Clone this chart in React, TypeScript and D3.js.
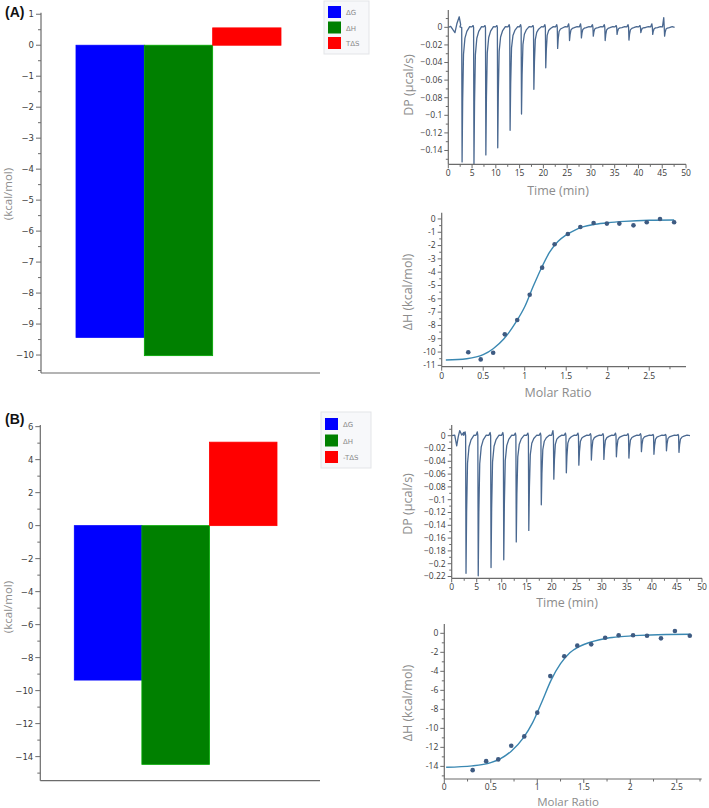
import React from "react";
import * as d3 from "d3";

// ---------- DATA ----------
const categories = ["ΔG", "ΔH", "TΔS"];
const legendLabelsA = ["ΔG", "ΔH", "TΔS"];
const legendLabelsB = ["ΔG", "ΔH", "-TΔS"];
const barValuesA = [-9.43, -10.02, 0.56];
const barValuesB = [-9.36, -14.47, 5.06];
const barColors = ["#0000ff", "#008000", "#ff0000"];

const barTicksA = [1, 0, -1, -2, -3, -4, -5, -6, -7, -8, -9, -10];
const barMinorA = [0.5, -0.5, -1.5, -2.5, -3.5, -4.5, -5.5, -6.5, -7.5, -8.5, -9.5, -10.5];
const barTicksB = [6, 4, 2, 0, -2, -4, -6, -8, -10, -12, -14];
const barMinorB = [5, 3, 1, -1, -3, -5, -7, -9, -11, -13, -15];

// raw thermograms (time in min, DP in µcal/s)
const injTimesA = [2.9, 5.4, 7.9, 10.4, 13.0, 15.4, 18.0, 20.5, 23.0, 25.5, 28.0, 30.5, 33.0, 35.5, 38.0, 40.5, 43.0, 45.5];
const peakDepthsA = [-0.153, -0.155, -0.145, -0.137, -0.117, -0.0985, -0.0705, -0.046, -0.024, -0.015, -0.012, -0.010, -0.015, -0.008, -0.0145, -0.006, -0.008, -0.010];
const preSpikeA = [0.0, 0.002, 0.002, 0.002, 0.003, 0.003, 0.002, 0.003, 0.003, 0.004, 0.004, 0.003, 0.003, 0.002, 0.003, 0.002, 0.004, 0.011];
const traceStartA: [number, number][] = [[0, 0], [0.5, 0.001], [1.0, -0.003], [1.4, -0.006], [1.8, 0.004], [2.3, 0.012], [2.6, 0.003]];

const injTimesB = [2.86, 5.3, 7.86, 10.4, 12.9, 15.4, 17.9, 20.4, 22.9, 25.4, 27.9, 30.4, 32.9, 35.4, 37.9, 40.4, 42.9, 45.4];
const peakDepthsB = [-0.215, -0.219, -0.206, -0.194, -0.166, -0.148, -0.108, -0.068, -0.058, -0.046, -0.038, -0.037, -0.033, -0.035, -0.025, -0.029, -0.0235, -0.026];
const preSpikeB = [0.006, 0.006, 0.005, 0.005, 0.004, 0.004, 0.004, 0.008, 0.004, 0.004, 0.003, 0.003, 0.004, 0.003, 0.003, 0.002, 0.002, 0.002];
const traceStartB: [number, number][] = [[0, 0], [0.6, 0.001], [1.0, -0.016], [1.3, -0.002], [1.6, 0.008], [2.0, 0.001], [2.4, 0.005]];
const traceEnd = 47.6;

const rawXTicks = [0, 5, 10, 15, 20, 25, 30, 35, 40, 45, 50];
const rawXMinor = [2.5, 7.5, 12.5, 17.5, 22.5, 27.5, 32.5, 37.5, 42.5, 47.5];
const rawYTicksA = [0, -0.02, -0.04, -0.06, -0.08, -0.1, -0.12, -0.14];
const rawYMinorA = [0.01, -0.01, -0.03, -0.05, -0.07, -0.09, -0.11, -0.13, -0.15];
const rawYTicksB = [0, -0.02, -0.04, -0.06, -0.08, -0.1, -0.12, -0.14, -0.16, -0.18, -0.2, -0.22];
const rawYMinorB = [0.01, -0.01, -0.03, -0.05, -0.07, -0.09, -0.11, -0.13, -0.15, -0.17, -0.19, -0.21];

// integrated heats
const molarA = [0.32, 0.47, 0.62, 0.76, 0.91, 1.06, 1.21, 1.36, 1.52, 1.67, 1.83, 1.99, 2.14, 2.31, 2.47, 2.63, 2.8];
const dhA = [-10.02, -10.55, -10.05, -8.67, -7.59, -5.69, -3.66, -1.9, -1.13, -0.6, -0.3, -0.35, -0.35, -0.48, -0.25, 0.0, -0.25];
const fitXA = [0.05, 0.3, 0.5, 0.62, 0.75, 0.9, 1.0, 1.1, 1.2, 1.3, 1.4, 1.5, 1.6, 1.7, 1.85, 2.0, 2.2, 2.5, 2.8];
const fitYA = [-10.6, -10.5, -10.2, -9.75, -9.0, -7.7, -6.6, -5.1, -3.7, -2.5, -1.7, -1.2, -0.85, -0.6, -0.4, -0.28, -0.18, -0.1, -0.08];

const molarB = [0.305, 0.45, 0.58, 0.72, 0.86, 1.0, 1.14, 1.29, 1.43, 1.58, 1.73, 1.875, 2.03, 2.18, 2.33, 2.48, 2.64];
const dhB = [-14.4, -13.45, -13.27, -11.83, -10.85, -8.35, -4.5, -2.42, -1.3, -1.16, -0.46, -0.21, -0.21, -0.25, -0.53, 0.25, -0.25];
const fitXB = [0.02, 0.3, 0.5, 0.6, 0.72, 0.85, 0.95, 1.05, 1.15, 1.25, 1.35, 1.45, 1.6, 1.75, 1.9, 2.1, 2.4, 2.65];
const fitYB = [-14.1, -13.95, -13.6, -13.2, -12.4, -11.0, -9.4, -7.2, -4.9, -3.2, -2.05, -1.4, -0.85, -0.52, -0.35, -0.22, -0.13, -0.1];

const fitXTicks = [0, 0.5, 1, 1.5, 2, 2.5];
const fitXMinor = [0.25, 0.75, 1.25, 1.75, 2.25, 2.75];
const fitYTicksA = [0, -1, -2, -3, -4, -5, -6, -7, -8, -9, -10, -11];
const fitYMinorA = [-0.5, -1.5, -2.5, -3.5, -4.5, -5.5, -6.5, -7.5, -8.5, -9.5, -10.5];
const fitYTicksB = [0, -2, -4, -6, -8, -10, -12, -14];
const fitYMinorB = [-1, -3, -5, -7, -9, -11, -13, -15];

// ---------- STYLE ----------
const AXIS = "#6b6b6b";
const TICKTXT = "#3a3a3a";
const TITLE = "#8c8c8c";
const TRACE = "#4a6890";
const FIT = "#3a88b2";
const DOT = "#3e5b82";
const TICKFONT = "'Open Sans', sans-serif";
const BARFONT = "'DejaVu Sans', sans-serif";

type Scale = d3.ScaleLinear<number, number>;

function YAxis(props: { scale: Scale; x: number; ticks: number[]; minor: number[]; fmt: (v: number) => string; font: string; size: number; len?: number; mlen?: number }) {
  const { scale, x, ticks, minor, fmt, font, size } = props;
  const len = props.len ?? 4;
  const mlen = props.mlen ?? 2.5;
  const [r0, r1] = scale.range();
  return (
    <g>
      <line x1={x} x2={x} y1={r0} y2={r1} stroke={AXIS} strokeWidth={1.2} />
      {ticks.map((t) => (
        <g key={"t" + t}>
          <line x1={x - len} x2={x} y1={scale(t)} y2={scale(t)} stroke={AXIS} strokeWidth={1} />
          <text x={x - len - 2} y={scale(t)} dy="0.34em" textAnchor="end" fontFamily={font} fontSize={size} fill={TICKTXT}>
            {fmt(t)}
          </text>
        </g>
      ))}
      {minor.map((t) => (
        <line key={"m" + t} x1={x - mlen} x2={x} y1={scale(t)} y2={scale(t)} stroke={AXIS} strokeWidth={1} />
      ))}
    </g>
  );
}

function XAxis(props: { scale: Scale; y: number; ticks: number[]; minor: number[]; fmt: (v: number) => string; font: string; size: number; off?: number }) {
  const { scale, y, ticks, minor, fmt, font, size } = props;
  const off = props.off ?? 13;
  const [r0, r1] = scale.range();
  return (
    <g>
      <line x1={r0} x2={r1} y1={y} y2={y} stroke={AXIS} strokeWidth={1.2} />
      {ticks.map((t) => (
        <g key={"t" + t}>
          <line x1={scale(t)} x2={scale(t)} y1={y} y2={y + 4} stroke={AXIS} strokeWidth={1} />
          <text x={scale(t)} y={y + off} textAnchor="middle" fontFamily={font} fontSize={size} fill={TICKTXT}>
            {fmt(t)}
          </text>
        </g>
      ))}
      {minor.map((t) => (
        <line key={"m" + t} x1={scale(t)} x2={scale(t)} y1={y} y2={y + 2.5} stroke={AXIS} strokeWidth={1} />
      ))}
    </g>
  );
}

function BarPanel(props: {
  label: string; values: number[]; legend: string[]; ticks: number[]; minor: number[];
  domain: [number, number]; yRange: [number, number]; band: [number, number]; axisX: number; axisEnd: number;
  legendBox: { x: number; y: number; w: number; h: number; y0: number; step: number }; titleY: number; labelY: number;
}) {
  const { values, legend, ticks, minor, domain, yRange, band, axisX, axisEnd, legendBox, titleY } = props;
  const y = d3.scaleLinear().domain(domain).range(yRange);
  const x = d3.scaleBand<string>().domain(categories).range(band).padding(0);
  const fmt = d3.format("d");
  return (
    <g>
      <text x={5} y={props.labelY} fontFamily="'Liberation Sans', Arial, sans-serif" fontWeight="bold" fontSize={14} fill="#111">{props.label}</text>
      {values.map((v, i) => (
        <rect key={i} x={x(categories[i])!} width={x.bandwidth()} y={Math.min(y(0), y(v))} height={Math.abs(y(v) - y(0))}
          fill={barColors[i]} stroke={d3.color(barColors[i])!.brighter(0.8).toString()} strokeWidth={0.8} />
      ))}
      <YAxis scale={y} x={axisX} ticks={ticks} minor={minor} fmt={(v) => fmt(v)} font={BARFONT} size={8.5} len={5} mlen={3} />
      <line x1={axisX} x2={axisEnd} y1={yRange[0]} y2={yRange[0]} stroke={AXIS} strokeWidth={1.2} />
      <text transform={`translate(12,${titleY}) rotate(-90)`} textAnchor="middle" fontFamily={TICKFONT} fontSize={11.5} fill={TITLE}>(kcal/mol)</text>
      <rect x={legendBox.x} y={legendBox.y} width={legendBox.w} height={legendBox.h} fill="#f7f8fa" stroke="#e3e5e8" strokeWidth={1} />
      {legend.map((l, i) => (
        <g key={l}>
          <rect x={legendBox.x + 4} y={legendBox.y0 + i * legendBox.step} width={13} height={12} fill={barColors[i]} />
          <text x={legendBox.x + 22} y={legendBox.y0 + i * legendBox.step + 9} fontFamily={BARFONT} fontSize={7} fill="#8a8a8a">{l}</text>
        </g>
      ))}
    </g>
  );
}

function buildTrace(start: [number, number][], times: number[], depths: number[], pre: number[], end: number): [number, number][] {
  const pts: [number, number][] = [...start];
  times.forEach((t, i) => {
    const d = depths[i];
    pts.push([t - 0.45, 0.0005], [t - 0.18, pre[i]], [t - 0.08, 0], [t, d], [t + 0.12, d * 0.55], [t + 0.3, d * 0.2], [t + 0.6, d * 0.08], [t + 1.0, d * 0.03], [t + 1.6, 0.0008]);
  });
  pts.push([end, 0]);
  return pts;
}

function RawPanel(props: {
  times: number[]; depths: number[]; pre: number[]; start: [number, number][]; yTicks: number[]; yMinor: number[];
  xRange: [number, number]; yDomain: [number, number]; yRange: [number, number]; titleX: number; titleY: number; xTitleX: number; xTitleY: number;
}) {
  const x = d3.scaleLinear().domain([0, 50]).range(props.xRange);
  const y = d3.scaleLinear().domain(props.yDomain).range(props.yRange);
  const pts = buildTrace(props.start, props.times, props.depths, props.pre, traceEnd);
  const line = d3.line<[number, number]>().x((d) => x(d[0])).y((d) => y(d[1]));
  const fy = (v: number) => (v === 0 ? "0" : d3.format(".2~f")(v));
  return (
    <g>
      <path d={line(pts)!} fill="none" stroke={TRACE} strokeWidth={1.3} strokeLinejoin="round" />
      <YAxis scale={y} x={props.xRange[0]} ticks={props.yTicks} minor={props.yMinor} fmt={fy} font={TICKFONT} size={8.5} len={4} mlen={2.5} />
      <XAxis scale={x} y={props.yRange[0]} ticks={rawXTicks} minor={rawXMinor} fmt={(v) => String(v)} font={TICKFONT} size={8.5} off={12} />
      <text transform={`translate(${props.titleX},${props.titleY}) rotate(-90)`} textAnchor="middle" fontFamily={TICKFONT} fontSize={12.5} fill={TITLE}>DP (µcal/s)</text>
      <text x={props.xTitleX} y={props.xTitleY} textAnchor="middle" fontFamily={TICKFONT} fontSize={12.5} fill={TITLE}>Time (min)</text>
    </g>
  );
}

function FitPanel(props: {
  mx: number[]; dh: number[]; fx: number[]; fy: number[]; yTicks: number[]; yMinor: number[];
  xDomain: [number, number]; xRange: [number, number]; yDomain: [number, number]; yRange: [number, number];
  titleX: number; titleY: number; xTitleX: number; xTitleY: number; titleSize?: number; tickOff?: number;
}) {
  const x = d3.scaleLinear().domain(props.xDomain).range(props.xRange);
  const y = d3.scaleLinear().domain(props.yDomain).range(props.yRange);
  const line = d3.line<number>().x((d) => x(d)).y((_, i) => y(props.fy[i])).curve(d3.curveMonotoneX);
  return (
    <g>
      <path d={line(props.fx)!} fill="none" stroke={FIT} strokeWidth={1.4} />
      {props.mx.map((m, i) => (
        <circle key={i} cx={x(m)} cy={y(props.dh[i])} r={2.3} fill={DOT} />
      ))}
      <YAxis scale={y} x={props.xRange[0]} ticks={props.yTicks} minor={props.yMinor} fmt={(v) => String(v)} font={TICKFONT} size={8.5} len={4} mlen={2.5} />
      <XAxis scale={x} y={props.yRange[0]} ticks={fitXTicks} minor={fitXMinor.filter((v) => v <= props.xDomain[1])} fmt={(v) => String(v)} font={TICKFONT} size={8.5} off={props.tickOff ?? 12} />
      <text transform={`translate(${props.titleX},${props.titleY}) rotate(-90)`} textAnchor="middle" fontFamily={TICKFONT} fontSize={12.5} fill={TITLE}>ΔH (kcal/mol)</text>
      <text x={props.xTitleX} y={props.xTitleY} textAnchor="middle" fontFamily={TICKFONT} fontSize={props.titleSize ?? 12.5} fill={TITLE}>Molar Ratio</text>
    </g>
  );
}

export default function App() {
  return (
    <svg width={709} height={808} style={{ position: "absolute", left: 0, top: 0, background: "#fff" }}>
      <BarPanel label="(A)" labelY={17} values={barValuesA} legend={legendLabelsA} ticks={barTicksA} minor={barMinorA}
        domain={[-10.58, 1.05]} yRange={[373, 12.7]} band={[76, 281]} axisX={41} axisEnd={320}
        legendBox={{ x: 324, y: 1, w: 45, h: 53, y0: 6, step: 15.5 }} titleY={194} />
      <BarPanel label="(B)" labelY={424} values={barValuesB} legend={legendLabelsB} ticks={barTicksB} minor={barMinorB}
        domain={[-15.46, 6.1]} yRange={[780.7, 425]} band={[74.3, 277]} axisX={40.3} axisEnd={320}
        legendBox={{ x: 321, y: 412, w: 50, h: 56, y0: 418, step: 16.5 }} titleY={607} />

      <RawPanel times={injTimesA} depths={peakDepthsA} pre={preSpikeA} start={traceStartA} yTicks={rawYTicksA} yMinor={rawYMinorA}
        xRange={[448.3, 686]} yDomain={[-0.1557, 0.0197]} yRange={[164.3, 10]} titleX={413} titleY={85} xTitleX={558} xTitleY={195} />
      <FitPanel mx={molarA} dh={dhA} fx={fitXA} fy={fitYA} yTicks={fitYTicksA} yMinor={fitYMinorA}
        xDomain={[0, 2.943]} xRange={[441.7, 686]} yDomain={[-11.1, 0.47]} yRange={[366.7, 212.7]}
        titleX={412} titleY={292} xTitleX={558} xTitleY={397} />

      <RawPanel times={injTimesB} depths={peakDepthsB} pre={preSpikeB} start={traceStartB} yTicks={rawYTicksB} yMinor={rawYMinorB}
        xRange={[451.7, 702]} yDomain={[-0.2228, 0.0167]} yRange={[578.3, 425]} titleX={412} titleY={504} xTitleX={567} xTitleY={607} />
      <FitPanel mx={molarB} dh={dhB} fx={fitXB} fy={fitYB} yTicks={fitYTicksB} yMinor={fitYMinorB}
        xDomain={[0, 2.768]} xRange={[444.3, 701.7]} yDomain={[-15.33, 0.98]} yRange={[779, 624]}
        titleX={412} titleY={703} xTitleX={568} xTitleY={806} titleSize={11.5} tickOff={11} />
    </svg>
  );
}
